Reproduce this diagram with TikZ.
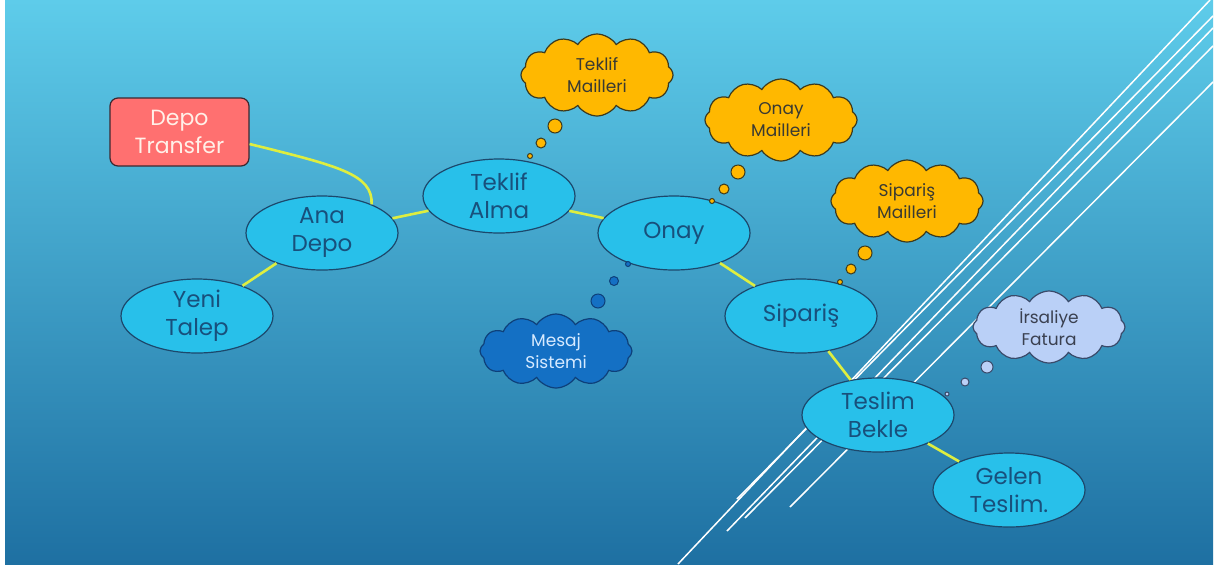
\documentclass[tikz,border=0pt]{standalone}
\usepackage{fontspec}
\setmainfont{Poppins}
\usetikzlibrary{shapes.geometric,shapes.symbols}

\definecolor{bgtop}{RGB}{94,204,234}
\definecolor{bgbottom}{RGB}{30,112,162}
\definecolor{topicfill}{RGB}{40,192,234}
\definecolor{topicline}{RGB}{28,72,108}
\definecolor{topictext}{RGB}{24,80,124}
\definecolor{linkyellow}{RGB}{222,238,64}
\definecolor{mailfill}{RGB}{255,184,0}
\definecolor{mailline}{RGB}{60,58,30}
\definecolor{mailtext}{RGB}{58,58,50}
\definecolor{transferfill}{RGB}{255,112,112}
\definecolor{transferline}{RGB}{60,40,48}
\definecolor{msgfill}{RGB}{20,112,196}
\definecolor{msgline}{RGB}{14,64,122}
\definecolor{msgtext}{RGB}{214,234,255}
\definecolor{docfill}{RGB}{186,208,247}
\definecolor{docline}{RGB}{58,74,106}
\definecolor{doctext}{RGB}{58,64,80}

\tikzset{
  topic/.style={ellipse, draw=topicline, fill=topicfill, line width=1.2pt,
    text=topictext, minimum width=152pt, minimum height=74pt, inner sep=0pt,
    align=center, font=\fontsize{23}{28}\selectfont},
  thought/.style={cloud, cloud puffs=12, cloud puff arc=115, aspect=1.9,
    line width=1.2pt, minimum width=152pt, minimum height=82pt, inner sep=0pt,
    align=center, font=\fontsize{17}{22}\selectfont},
  mail/.style={thought, draw=mailline, fill=mailfill, text=mailtext},
  link/.style={draw=linkyellow, line width=2.6pt},
  deco/.style={white, line width=1.5pt}
}

\begin{document}
\begin{tikzpicture}[x=1pt,y=-1pt]

\fill[white] (0,0) rectangle (1222,566);
\useasboundingbox (0,0) rectangle (1222,566);
\shade[top color=bgtop, bottom color=bgbottom] (5,0) rectangle (1213,564);

% white stripes
\draw[deco] (678,564) -- (1210,0);
\draw[deco] (737,499) -- (1213,16);
\draw[deco] (727,531) -- (1213,28);
\draw[deco] (745,518) -- (1213,46);
\draw[deco] (790,507) -- (1213,82);

% main steps
\node[draw=transferline, fill=transferfill, text={rgb,255:red,255;green,240;blue,232},
  rounded corners=8pt, line width=1.2pt, minimum width=139pt, minimum height=68pt,
  inner sep=0pt, align=center, font=\fontsize{22}{28}\selectfont]
  (depot) at (179.5,132) {Depo\\Transfer};
\node[topic] (anadepo) at (322,233) {Ana\\Depo};
\node[topic] (yeni) at (197,316) {Yeni\\Talep};
\node[topic] (teklif) at (499,196) {Teklif\\Alma};
\node[topic] (onay) at (674,233) {Onay};
\node[topic] (siparis) at (801,316) {Sipariş};
\node[topic] (teslim) at (878,415) {Teslim\\Bekle};
\node[topic] (gelen) at (1009,490) {Gelen\\Teslim.};

\draw[link] ([yshift=-12pt]depot.east) .. controls (338,166) and (373,174) .. (anadepo.30);
\draw[link] (anadepo) -- (yeni);
\draw[link] (anadepo) -- (teklif);
\draw[link] (teklif) -- (onay);
\draw[link] (onay) -- (siparis);
\draw[link] (siparis) -- (teslim);
\draw[link] (teslim) -- (gelen);

% thoughts
\node[mail] (teklifmail) at (597,75) {Teklif\\Mailleri};
\node[mail] (onaymail) at (781,120) {Onay\\Mailleri};
\node[mail] (siparismail) at (907,201) {Sipariş\\Mailleri};
\node[thought, draw=msgline, fill=msgfill, text=msgtext, minimum height=74pt]
  (mesaj) at (556,351) {Mesaj\\Sistemi};
\node[thought, draw=docline, fill=docfill, text=doctext, minimum height=72pt]
  (irsaliye) at (1049,327) {İrsaliye\\Fatura};

\filldraw[draw=mailline, fill=mailfill, line width=1pt] (555,126) circle (7pt);
\filldraw[draw=mailline, fill=mailfill, line width=1pt] (541,143) circle (5pt);
\filldraw[draw=mailline, fill=mailfill, line width=1pt] (530,156) circle (2.5pt);
\filldraw[draw=mailline, fill=mailfill, line width=1pt] (738,172) circle (7pt);
\filldraw[draw=mailline, fill=mailfill, line width=1pt] (724,189) circle (5pt);
\filldraw[draw=mailline, fill=mailfill, line width=1pt] (712,201) circle (2.5pt);
\filldraw[draw=mailline, fill=mailfill, line width=1pt] (865,253) circle (7pt);
\filldraw[draw=mailline, fill=mailfill, line width=1pt] (851,269) circle (5pt);
\filldraw[draw=mailline, fill=mailfill, line width=1pt] (840,282) circle (2.5pt);
\filldraw[draw=msgline, fill=msgfill, line width=1pt] (598,301) circle (7pt);
\filldraw[draw=msgline, fill=msgfill, line width=1pt] (614,281) circle (4.5pt);
\filldraw[draw=msgline, fill=msgfill, line width=1pt] (628,264) circle (2.5pt);
\filldraw[draw=docline, fill=docfill, line width=1pt] (987,367) circle (6pt);
\filldraw[draw=docline, fill=docfill, line width=1pt] (965,382) circle (4pt);
\filldraw[draw=docline, fill=docfill, line width=1pt] (947,394) circle (2pt);

\end{tikzpicture}
\end{document}
